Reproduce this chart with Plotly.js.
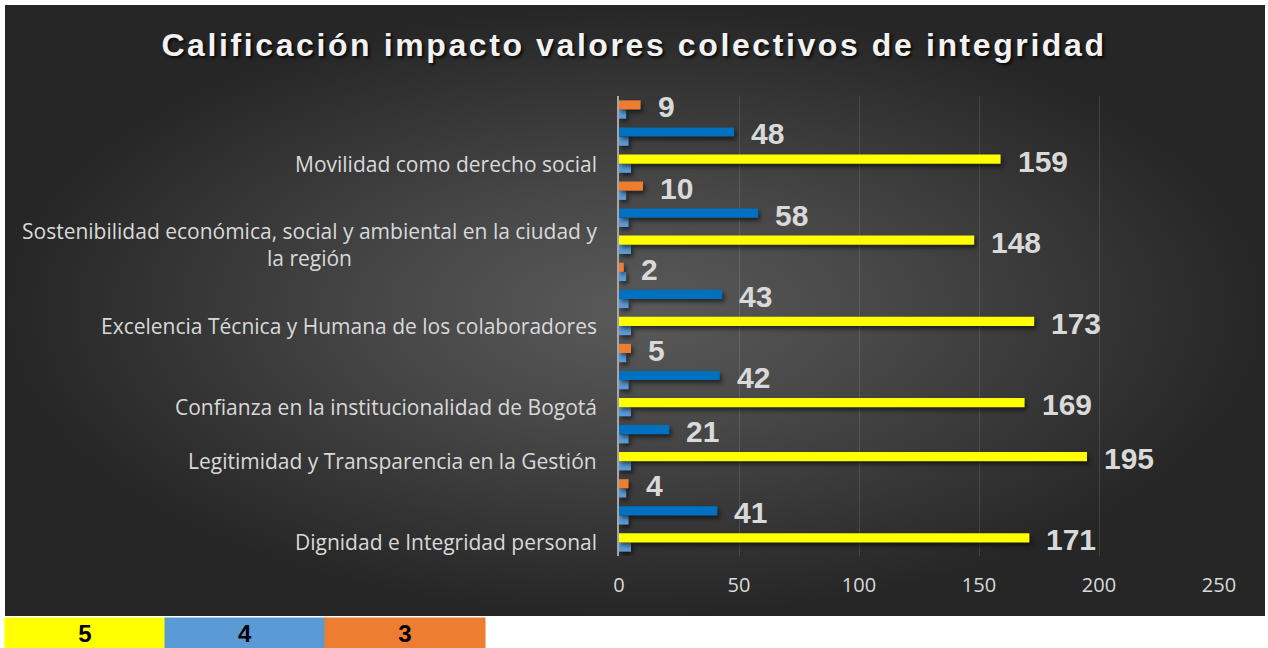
<!DOCTYPE html>
<html>
<head>
<meta charset="utf-8">
<script src="https://cdn.plot.ly/plotly-3.0.1.min.js"></script>
<style>
  html, body { margin: 0; padding: 0; background: #ffffff; }
  #wrap { position: relative; width: 1268px; height: 648px; }
  #bg { position: absolute; left: 5px; top: 5px; width: 1260px; height: 611px;
        background: radial-gradient(ellipse farthest-side at 50% 50%, #5a5a5a 0%, #474747 40%, #262626 100%); }
  #chart { position: absolute; left: 0; top: 0; width: 1268px; height: 648px; }
  #chart .gtitle { letter-spacing: 2.6px; }
  #chart .bars .point path { filter: drop-shadow(2px 3px 2px rgba(0,0,0,0.55)); }
</style>
</head>
<body>
<div id="wrap"><div id="bg"></div><div id="chart"></div></div>
<script>
// ---- data ----
const categories = [
  'Dignidad e Integridad personal',
  'Legitimidad y Transparencia en la Gestión',
  'Confianza en la institucionalidad de Bogotá',
  'Excelencia Técnica y Humana de los colaboradores',
  'Sostenibilidad económica, social y ambiental en la ciudad y<br>la región',
  'Movilidad como derecho social'
];
const rating5 = [171, 195, 169, 173, 148, 159];
const rating4 = [41, 21, 42, 43, 58, 48];
const rating3 = [4, null, 5, 2, 10, 9];
const levels = [5, 4, 3];
const levelColors = {5: '#FFFF00', 4: '#0070C0', 3: '#ED7D31'};
const legendLabels = ['5', '4', '3'];
const legendColors = ['#FFFF00', '#5B9BD5', '#ED7D31'];
const xTicks = [0, 50, 100, 150, 200, 250];

// ---- build rows ----
const rowY = [], countX = [], countColor = [], levelX = [], catLabelRows = [];
let r = 0;
categories.forEach((c, i) => {
  const vals = {5: rating5[i], 4: rating4[i], 3: rating3[i]};
  levels.forEach(lv => {
    if (vals[lv] === null || vals[lv] === undefined) return;
    if (lv === 5) catLabelRows.push({row: r, text: c});
    rowY.push(r); countX.push(vals[lv]); countColor.push(levelColors[lv]); levelX.push(lv);
    r++;
  });
});
const nRows = r;
const W = 0.34;

const traces = [
  { type: 'bar', orientation: 'h', name: 'Calificación', y: rowY, x: levelX,
    width: W, offset: -W, marker: {color: '#5B9BD5'}, hoverinfo: 'x' },
  { type: 'bar', orientation: 'h', name: 'Cantidad', y: rowY, x: countX,
    width: W, offset: 0.0, marker: {color: countColor}, hoverinfo: 'x' }
];

const annotations = [];
rowY.forEach((y, k) => {
  annotations.push({ x: countX[k], y: y + W / 2, xref: 'x', yref: 'y', text: String(countX[k]),
    showarrow: false, xanchor: 'left', yanchor: 'middle', xshift: 15, yshift: -2,
    font: {family: 'Liberation Sans, Arial, sans-serif', size: 30, color: '#d9d9d9', weight: 'bold'} });
});
catLabelRows.forEach(o => {
  annotations.push({ x: 0, y: o.row, xref: 'paper', yref: 'y', text: o.text, showarrow: false,
    xanchor: 'right', yanchor: 'middle', align: 'center', xshift: -20,
    font: {family: 'Open Sans, sans-serif', size: 21, color: '#d9d9d9'} });
});
// bottom legend table
const L = 619, PW = 600, T = 96, PH = 460;
legendLabels.forEach((t, i) => {
  const cx = 5 + 160 * i + 80, cy = 633;
  annotations.push({ x: (cx - L) / PW, y: (T + PH - cy) / PH, xref: 'paper', yref: 'paper',
    text: '<b>' + t + '</b>', showarrow: false, xanchor: 'center', yanchor: 'middle',
    width: 160, height: 30, borderpad: 0, bgcolor: legendColors[i],
    font: {family: 'Liberation Sans, Arial, sans-serif', size: 24, color: '#000000'} });
});

const layout = {
  width: 1268, height: 648,
  margin: {l: L, r: 1268 - L - PW, t: T, b: 648 - T - PH},
  paper_bgcolor: 'rgba(0,0,0,0)', plot_bgcolor: 'rgba(0,0,0,0)',
  showlegend: false,
  title: { text: 'Calificación impacto valores colectivos de integridad',
    x: 0.5, xref: 'container', y: 1 - 45 / 648, yref: 'container', yanchor: 'middle',
    font: {family: 'Liberation Sans, Arial, sans-serif', size: 32, color: '#f2f2f2', weight: 'bold',
           shadow: '2px 2px 3px rgba(0,0,0,0.8)'} },
  xaxis: { range: [0, 250], tickvals: xTicks, showgrid: true, gridcolor: 'rgba(255,255,255,0.12)',
    gridwidth: 1, zeroline: false, showline: false, ticks: '', ticklabelstandoff: 15,
    tickfont: {family: 'Open Sans, sans-serif', size: 20, color: '#d9d9d9'} },
  yaxis: { range: [-0.5, nRows - 0.5], showticklabels: false, showgrid: false, zeroline: false,
    showline: true, linecolor: '#a6a6a6', linewidth: 2, ticks: '' },
  annotations: annotations
};

Plotly.newPlot('chart', traces, layout, {displayModeBar: false, staticPlot: true});
</script>
</body>
</html>
